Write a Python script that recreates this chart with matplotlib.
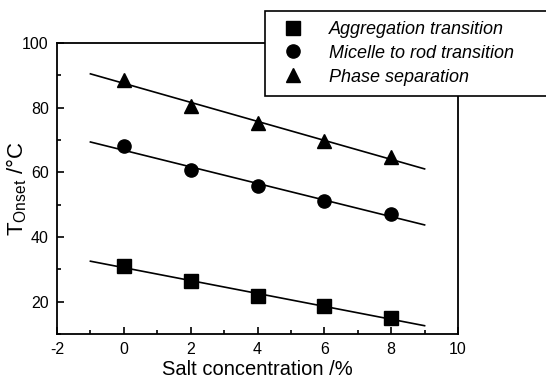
import numpy as np
import matplotlib.pyplot as plt
from matplotlib.ticker import MultipleLocator
from matplotlib.lines import Line2D

plt.rcParams['font.family'] = ['Liberation Sans', 'DejaVu Sans']
plt.rcParams['axes.unicode_minus'] = False

# Onset temperatures vs salt content
salt = [0, 2, 4, 6, 8]
aggregation = [31.0, 26.3, 21.9, 18.6, 14.9]
micelle_rod = [68.0, 60.8, 55.7, 51.1, 47.2]
phase_sep = [88.6, 80.6, 75.2, 69.8, 64.6]

labels = ['Aggregation transition', 'Micelle to rod transition', 'Phase separation']
markers = ['s', 'o', '^']

fig = plt.figure(figsize=(5.46, 3.78), dpi=100)
ax = fig.add_axes([57 / 546, 1 - 334 / 378, (458 - 57) / 546, (334 - 43) / 378])

# linear fits over an extended range
xfit = np.array([-1, 9])
for series, m in zip([aggregation, micelle_rod, phase_sep], markers):
    k, b = np.polyfit(salt, series, 1)
    ax.plot(xfit, k * xfit + b, color='black', lw=1.2, zorder=2)
    ax.plot(salt, series, m, color='black', ms=9.5 if m != '^' else 10.5,
            linestyle='none', zorder=3)

ax.set_xlim(-2, 10)
ax.set_ylim(10, 100)
ax.xaxis.set_major_locator(MultipleLocator(2))
ax.xaxis.set_minor_locator(MultipleLocator(1))
ax.yaxis.set_major_locator(MultipleLocator(20))
ax.yaxis.set_minor_locator(MultipleLocator(10))
ax.tick_params(which='both', direction='in', labelsize=11.5, width=1.2)
ax.tick_params(which='major', length=5, pad=6)
ax.tick_params(which='minor', length=3)
for s in ax.spines.values():
    s.set_linewidth(1.3)

ax.set_xlabel('Salt concentration /%', fontsize=14.5)
ax.xaxis.set_label_coords(0.5, -0.09)
ax.set_ylabel(r'$\mathregular{T_{Onset}}$ /°C', fontsize=16)
ax.yaxis.set_label_coords(-0.07, 0.5)

handles = [Line2D([], [], marker=m, color='black', linestyle='none', ms=9.5)
           for m in markers]
leg = fig.legend(handles, labels, loc='upper left',
                 bbox_to_anchor=(265 / 546, 1 - 93 / 378, 0.6, 82 / 378),
                 mode='expand', borderaxespad=0, frameon=True, fancybox=False,
                 edgecolor='black', framealpha=1, fontsize=13,
                 handletextpad=1.0, labelspacing=0.38, borderpad=0.55)
leg.get_frame().set_linewidth(1.2)
for t in leg.get_texts():
    t.set_fontstyle('italic')

fig.savefig('out.png', dpi=100)
